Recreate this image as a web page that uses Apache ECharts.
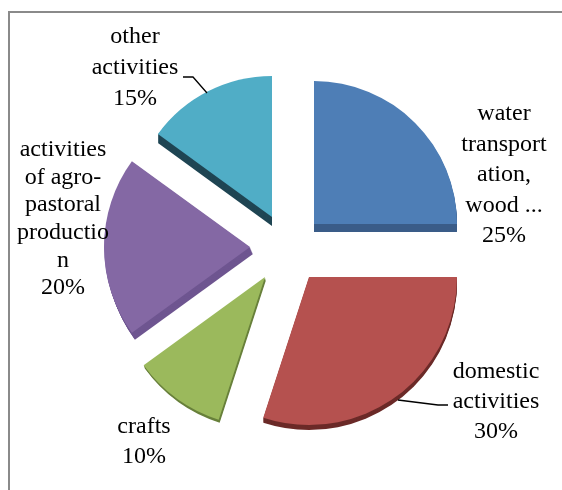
<!DOCTYPE html>
<html><head><meta charset="utf-8">
<style>html,body{margin:0;padding:0;background:#fff}#c{width:562px;height:490px}</style>
<script src="https://cdn.jsdelivr.net/npm/echarts@6/dist/echarts.min.js"></script>
</head><body><div id="c"></div>
<script>
const categories = ['water transportation, wood ...', 'domestic activities', 'crafts', 'activities of agro-pastoral production', 'other activities'];
const labelLines = [
  ['water', 'transport', 'ation,', 'wood ...'],
  ['domestic', 'activities'],
  ['crafts'],
  ['activities', 'of agro-', 'pastoral', 'productio', 'n'],
  ['other', 'activities']
];
const values = [25, 30, 10, 20, 15];
const faceColors = ['#4e7eb6', '#b5514f', '#9bb95c', '#8468a4', '#50adc6'];
const sideColors = ['#3a5c88', '#6b2a28', '#68803b', '#6e5590', '#1f4553'];

// layout of each exploded slice, separate from the data
const centers = [[314, 224], [309, 277], [265, 277], [250, 247], [272, 217]];
const radii = [143, 148, 150, 146, 141];
const sideShift = [[0, 8], [0, 5], [1, 3], [3, 7], [0, 9]];
const labelPos = [[504, 175], [496, 402], [144, 442], [63, 219], [135, 68]];
const lineHeights = [30.5, 30, 30, 27.6, 31];

const series = [];
let cum = 0;
const slices = values.map((v, i) => { const s = { v, i, start: 90 - cum * 3.6 }; cum += v; return s; });

function base(s, c, r) {
  return {
    type: 'pie', animation: false, silent: true, clockwise: true,
    startAngle: s.start, center: c, radius: [0, r],
    avoidLabelOverlap: false, emphasis: { disabled: true },
    labelLine: { show: false }
  };
}
slices.forEach(s => {
  const c = centers[s.i], d = sideShift[s.i];
  const steps = Math.max(Math.abs(d[0]), Math.abs(d[1]));
  for (let k = steps; k >= 1; k--) {
    series.push(Object.assign(base(s, [c[0] + d[0] * k / steps, c[1] + d[1] * k / steps], radii[s.i]), {
      z: 1, label: { show: false },
      data: [
        { value: s.v, name: categories[s.i], itemStyle: { color: sideColors[s.i] } },
        { value: 100 - s.v, name: '', itemStyle: { color: 'rgba(0,0,0,0)' } }
      ]
    }));
  }
});
slices.forEach(s => {
  const i = s.i;
  series.push(Object.assign(base(s, centers[i], radii[i]), {
    z: 2,
    labelLayout: { x: labelPos[i][0], y: labelPos[i][1], align: 'center', verticalAlign: 'middle' },
    data: [
      {
        value: s.v, name: categories[i],
        itemStyle: { color: faceColors[i] },
        label: {
          show: true, position: 'inside', color: '#000',
          fontFamily: 'Liberation Serif', fontSize: 24, lineHeight: lineHeights[i],
          align: 'center', textBorderWidth: 0,
          formatter: labelLines[i].concat(s.v + '%').join('\n')
        }
      },
      { value: 100 - s.v, name: '', itemStyle: { color: 'rgba(0,0,0,0)' }, label: { show: false } }
    ]
  }));
});

const chart = echarts.init(document.getElementById('c'), null, { renderer: 'canvas' });
chart.setOption({
  backgroundColor: '#fff',
  animation: false,
  series,
  graphic: [
    { type: 'polyline', z: 10, shape: { points: [[9, 490], [9, 12], [562, 12]] }, style: { stroke: '#8a8a8a', lineWidth: 2, fill: null } },
    { type: 'polyline', z: 10, shape: { points: [[183, 77], [193, 77], [207, 93]] }, style: { stroke: '#000', lineWidth: 1.3, fill: null } },
    { type: 'polyline', z: 10, shape: { points: [[398, 400], [438, 405], [448, 405]] }, style: { stroke: '#000', lineWidth: 1.3, fill: null } }
  ]
});
</script></body></html>
